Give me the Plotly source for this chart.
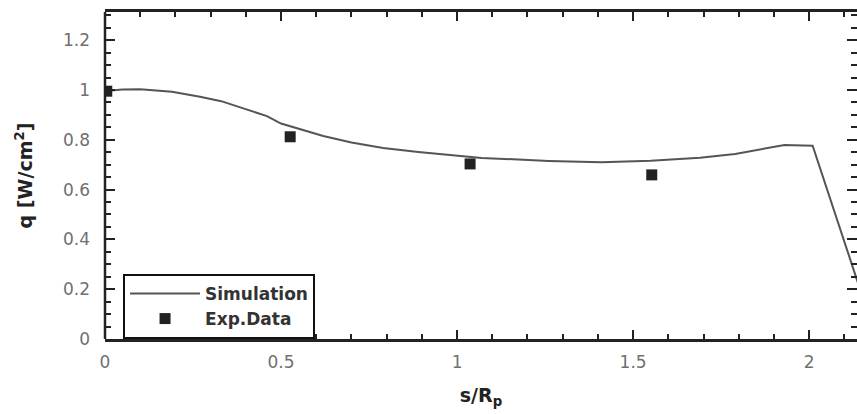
import plotly.graph_objects as go

# Simulation curve
sim_x = [0.0, 0.05, 0.10, 0.19, 0.27, 0.33, 0.38, 0.46, 0.50, 0.55, 0.62, 0.70, 0.79, 0.89, 0.98,
         1.07, 1.26, 1.41, 1.55, 1.69, 1.79, 1.88, 1.93, 2.01, 2.14]
sim_y = [0.996, 1.002, 1.003, 0.993, 0.973, 0.955, 0.932, 0.895, 0.865, 0.845, 0.815, 0.789, 0.767, 0.751, 0.739,
         0.727, 0.715, 0.71, 0.716, 0.728, 0.743, 0.766, 0.779, 0.776, 0.22]

# Experimental data
exp_x = [0.005, 0.526, 1.037, 1.553]
exp_y = [0.995, 0.812, 0.703, 0.659]

x_ticks = [0, 0.5, 1, 1.5, 2]
x_labels = ["0", "0.5", "1", "1.5", "2"]
y_ticks = [0, 0.2, 0.4, 0.6, 0.8, 1.0, 1.2]
y_labels = ["0", "0.2", "0.4", "0.6", "0.8", "1", "1.2"]

FONT = "DejaVu Sans"

fig = go.Figure()
fig.add_trace(go.Scatter(x=sim_x, y=sim_y, mode="lines", name="<b>Simulation</b>",
                         line=dict(color="#555555", width=2)))
fig.add_trace(go.Scatter(x=exp_x, y=exp_y, mode="markers", name="<b>Exp.Data</b>",
                         marker=dict(symbol="square", size=11, color="#222222")))

axis_common = dict(
    ticks="inside", tickwidth=2, tickcolor="#222222",
    showgrid=False, zeroline=False, automargin=False,
    tickfont=dict(family=FONT, size=17, color="#707070"),
)

fig.update_xaxes(
    range=[0, 2.136], tickvals=x_ticks, ticktext=x_labels, ticklen=9,
    showline=True, linewidth=2.5, linecolor="#222222", mirror="ticks",
    minor=dict(dtick=0.1, ticks="inside", ticklen=5, tickwidth=2, tickcolor="#222222", showgrid=False),
    ticklabelstandoff=6,
    title=dict(text="<b>s/R<sub>p</sub></b>", font=dict(family=FONT, size=19, color="#222222"), standoff=18),
    **axis_common,
)
fig.update_yaxes(
    range=[0, 1.313], tickvals=y_ticks, ticktext=y_labels, ticklen=10,
    showline=False, mirror="ticks",
    minor=dict(dtick=0.05, ticks="inside", ticklen=6, tickwidth=2, tickcolor="#222222", showgrid=False),
    ticklabelstandoff=14,
    title=dict(text="<b>q [W/cm<sup>2</sup>]</b>", font=dict(family=FONT, size=19, color="#222222"), standoff=25),
    **axis_common,
)

fig.add_shape(type="line", xref="paper", yref="paper", x0=0, x1=0, y0=0, y1=1,
              line=dict(color="#222222", width=2.5))

fig.update_layout(
    width=857, height=414,
    margin=dict(l=105, r=0, t=12, b=75),
    paper_bgcolor="white", plot_bgcolor="white",
    showlegend=True,
    legend=dict(x=0.024, y=0.199, xanchor="left", yanchor="top",
                bordercolor="#111111", borderwidth=2, bgcolor="white",
                font=dict(family=FONT, size=17, color="#333333"),
                itemwidth=70, tracegroupgap=0),
)

fig.write_html(
    "out.html",
    config={"displayModeBar": False},
    post_script="document.body.style.margin='0';document.body.style.overflow='hidden';",
)
